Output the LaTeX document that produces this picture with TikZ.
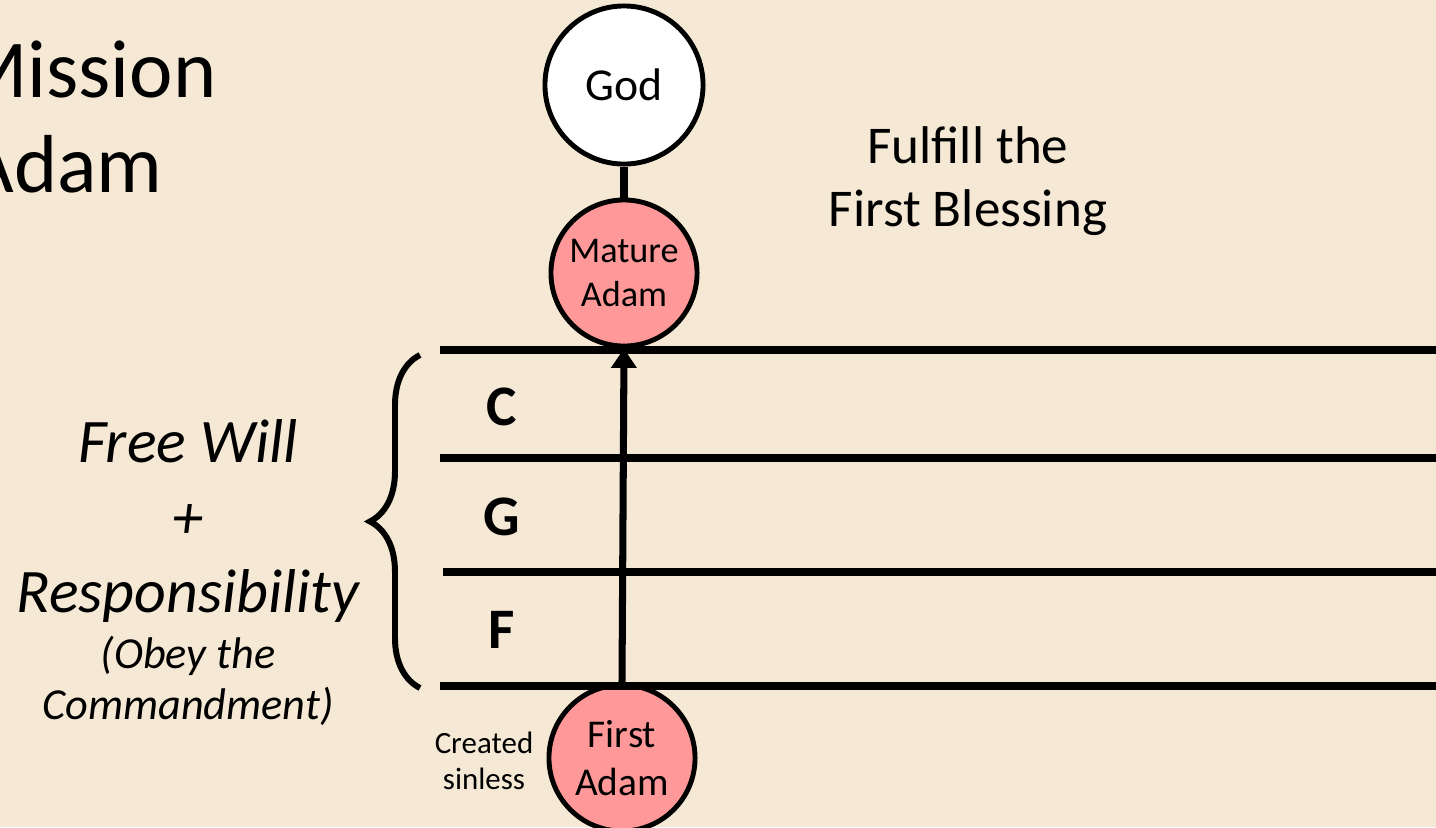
\documentclass[tikz,border=0pt]{standalone}
\usepackage{fontspec}
\setmainfont{Carlito}
\usetikzlibrary{positioning,arrows.meta,decorations.pathreplacing}
\definecolor{paper}{RGB}{245,233,213}
\definecolor{rosy}{RGB}{255,153,153}

\begin{document}
\begin{tikzpicture}[x=0.01cm, y=-0.01cm,
  stage/.style={draw, circle, line width=1.4pt, fill=rosy, minimum size=1.46cm, inner sep=0pt, align=center, font=\fontsize{10.3}{12.5}\selectfont},
  level/.style={line width=2pt},
  lbl/.style={anchor=base, font=\fontsize{16.3}{18}\selectfont\bfseries},
  side/.style={anchor=base, font=\fontsize{17.6}{20}\selectfont\itshape},
  note/.style={anchor=base, font=\fontsize{12.6}{14}\selectfont\itshape}]
\fill[paper] (0,0) rectangle (1436,827);
\useasboundingbox (0,0) rectangle (1436,827);

\node[anchor=base west, font=\fontsize{23.4}{26}\selectfont] (mission) at (-55,97) {Mission};
\node[anchor=base west, font=\fontsize{23.4}{26}\selectfont] (adam) at (-46,192) {Adam};

\node[draw, circle, line width=1.4pt, fill=white, minimum size=1.58cm, font=\fontsize{13}{15}\selectfont] (god) at (624,85) {God};
\node[stage] (mature) at (624,273) {Mature\\Adam};
\node[stage, font=\fontsize{11.2}{13.6}\selectfont] (first) at (622,758) {First\\Adam};

\node[font=\fontsize{15.1}{17.9}\selectfont, align=center] (bless) at (968,181) {Fulfill the\\First Blessing};

% levels of growth
\foreach \y/\x in {350/440, 458/440, 572/443, 686/440}
  \draw[level] (\x,\y) -- (1440,\y);
\node[lbl] (c) at (502,425) {C};
\node[lbl] (g) at (502,535) {G};
\node[lbl] (f) at (502,648) {F};

\draw[level] (god) -- (mature);
\draw[level, -{Triangle[length=5.5pt,width=7pt]}] (first.north) -- (mature.south);

\draw[line width=1.7pt, decorate, decoration={brace, amplitude=0.5cm}] (420,688) -- (420,355);

\node[side] (will) at (188,462) {Free Will};
\node[side] (plus) at (188,538) {+};
\node[side] (resp) at (188,612) {Responsibility};
\node[note] (obey) at (188,668) {(Obey the};
\node[note] (cmd) at (188,719) {Commandment)};

\node[font=\fontsize{8.8}{10.2}\selectfont, align=center] (sinless) at (484,761) {Created\\sinless};
\end{tikzpicture}
\end{document}
